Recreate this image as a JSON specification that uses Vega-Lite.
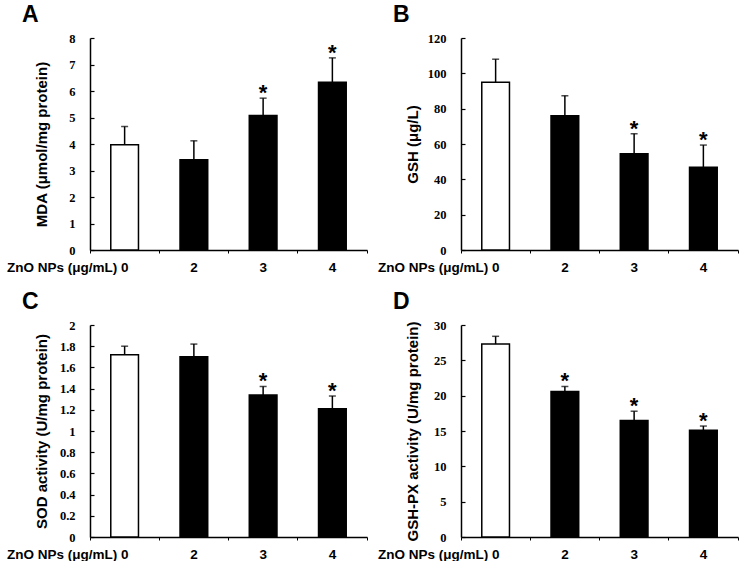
{
  "$schema": "https://vega.github.io/schema/vega-lite/v6.json",
  "background": "white",
  "padding": {"left": 6, "top": 4, "right": 0, "bottom": 0},
  "datasets": {
    "all": [
      {"panel": "A", "dose": "0", "group": "control", "mean": 3.97, "upper": 4.66, "sig": ""},
      {"panel": "A", "dose": "2", "group": "ZnO", "mean": 3.41, "upper": 4.12, "sig": ""},
      {"panel": "A", "dose": "3", "group": "ZnO", "mean": 5.08, "upper": 5.73, "sig": "*"},
      {"panel": "A", "dose": "4", "group": "ZnO", "mean": 6.33, "upper": 7.25, "sig": "*"},
      {"panel": "B", "dose": "0", "group": "control", "mean": 95.0, "upper": 108.0, "sig": ""},
      {"panel": "B", "dose": "2", "group": "ZnO", "mean": 76.0, "upper": 87.3, "sig": ""},
      {"panel": "B", "dose": "3", "group": "ZnO", "mean": 54.5, "upper": 65.8, "sig": "*"},
      {"panel": "B", "dose": "4", "group": "ZnO", "mean": 46.9, "upper": 59.4, "sig": "*"},
      {"panel": "C", "dose": "0", "group": "control", "mean": 1.72, "upper": 1.80, "sig": ""},
      {"panel": "C", "dose": "2", "group": "ZnO", "mean": 1.70, "upper": 1.82, "sig": ""},
      {"panel": "C", "dose": "3", "group": "ZnO", "mean": 1.34, "upper": 1.42, "sig": "*"},
      {"panel": "C", "dose": "4", "group": "ZnO", "mean": 1.21, "upper": 1.33, "sig": "*"},
      {"panel": "D", "dose": "0", "group": "control", "mean": 27.3, "upper": 28.4, "sig": ""},
      {"panel": "D", "dose": "2", "group": "ZnO", "mean": 20.6, "upper": 21.3, "sig": "*"},
      {"panel": "D", "dose": "3", "group": "ZnO", "mean": 16.5, "upper": 17.8, "sig": "*"},
      {"panel": "D", "dose": "4", "group": "ZnO", "mean": 15.1, "upper": 15.7, "sig": "*"}
    ]
  },
  "config": {
    "view": {"stroke": null},
    "axis": {"grid": false},
    "axisX": {
      "domainColor": "black", "domainWidth": 1.5, "tickColor": "black", "tickSize": 3, "tickWidth": 1,
      "bandPosition": 1, "tickExtra": true, "labelAngle": 0,
      "labelFont": "Liberation Sans", "labelFontWeight": "bold", "labelFontSize": 13.5, "labelColor": "black",
      "labelPadding": 7, "title": null
    },
    "axisY": {
      "domainColor": "black", "domainWidth": 1.5, "tickColor": "black", "tickSize": -4, "tickWidth": 1.2,
      "labelFont": "Liberation Serif", "labelFontWeight": "bold", "labelFontSize": 12.5, "labelColor": "black",
      "labelPadding": 19, "format": "~r", "labelOverlap": false,
      "titleFont": "Liberation Sans", "titleFontWeight": "bold", "titleFontSize": 15, "titleColor": "black",
      "titleX": -41, "titleY": 106, "titleAlign": "center", "titleBaseline": "bottom", "titleAngle": -90
    },
    "title": {"anchor": "start", "frame": "group", "dx": -68, "fontSize": 23, "font": "Liberation Sans", "fontWeight": "bold", "color": "black", "offset": 5}
  },
  "columns": 2,
  "spacing": {"row": 17, "column": 9},
  "resolve": {"scale": {"x": "independent", "y": "independent", "fill": "shared"}},
  "concat": [
    {
      "title": "A", "width": 277, "height": 212,
      "data": {"name": "all"},
      "transform": [{"filter": "datum.panel == 'A'"}],
      "encoding": {
        "x": {"field": "dose", "type": "ordinal", "sort": ["0", "2", "3", "4"],
          "scale": {"paddingInner": 0, "paddingOuter": 0},
          "axis": {"labelExpr": "datum.value == '0' ? 'ZnO NPs (μg/mL) 0' : datum.label",
            "labelAlign": {"condition": {"test": "datum.value == '0'", "value": "right"}, "value": "center"},
            "labelOffset": {"condition": {"test": "datum.value == '0'", "value": 4}, "value": 0}}},
        "y": {"field": "mean", "type": "quantitative", "scale": {"domain": [0, 8], "nice": false},
          "axis": {"values": [0, 1, 2, 3, 4, 5, 6, 7, 8], "title": "MDA (μmol/mg protein)"}}
      },
      "layer": [
        {"mark": {"type": "bar", "stroke": "black", "strokeWidth": 1.5, "width": {"band": 0.4}},
          "encoding": {"fill": {"field": "group", "type": "nominal", "scale": {"domain": ["control", "ZnO"], "range": ["white", "black"]}, "legend": null}}},
        {"mark": {"type": "rule", "color": "black", "strokeWidth": 1.5},
          "encoding": {"y2": {"field": "upper"}}},
        {"mark": {"type": "tick", "color": "black", "size": 7, "thickness": 1.5},
          "encoding": {"y": {"field": "upper", "type": "quantitative", "axis": {"values": [0, 1, 2, 3, 4, 5, 6, 7, 8], "title": "MDA (μmol/mg protein)"}}}},
        {"mark": {"type": "text", "font": "Liberation Sans", "fontWeight": "bold", "fontSize": 22, "baseline": "alphabetic", "dy": 2, "color": "black"},
          "encoding": {"y": {"field": "upper", "type": "quantitative", "axis": {"values": [0, 1, 2, 3, 4, 5, 6, 7, 8], "title": "MDA (μmol/mg protein)"}}, "text": {"field": "sig"}}}
      ]
    },
    {
      "title": "B", "width": 277, "height": 212,
      "data": {"name": "all"},
      "transform": [{"filter": "datum.panel == 'B'"}],
      "encoding": {
        "x": {"field": "dose", "type": "ordinal", "sort": ["0", "2", "3", "4"],
          "scale": {"paddingInner": 0, "paddingOuter": 0},
          "axis": {"labelExpr": "datum.value == '0' ? 'ZnO NPs (μg/mL) 0' : datum.label",
            "labelAlign": {"condition": {"test": "datum.value == '0'", "value": "right"}, "value": "center"},
            "labelOffset": {"condition": {"test": "datum.value == '0'", "value": 4}, "value": 0}}},
        "y": {"field": "mean", "type": "quantitative", "scale": {"domain": [0, 120], "nice": false},
          "axis": {"values": [0, 20, 40, 60, 80, 100, 120], "title": "GSH (μg/L)"}}
      },
      "layer": [
        {"mark": {"type": "bar", "stroke": "black", "strokeWidth": 1.5, "width": {"band": 0.4}},
          "encoding": {"fill": {"field": "group", "type": "nominal", "scale": {"domain": ["control", "ZnO"], "range": ["white", "black"]}, "legend": null}}},
        {"mark": {"type": "rule", "color": "black", "strokeWidth": 1.5},
          "encoding": {"y2": {"field": "upper"}}},
        {"mark": {"type": "tick", "color": "black", "size": 7, "thickness": 1.5},
          "encoding": {"y": {"field": "upper", "type": "quantitative", "axis": {"values": [0, 20, 40, 60, 80, 100, 120], "title": "GSH (μg/L)"}}}},
        {"mark": {"type": "text", "font": "Liberation Sans", "fontWeight": "bold", "fontSize": 22, "baseline": "alphabetic", "dy": 2, "color": "black"},
          "encoding": {"y": {"field": "upper", "type": "quantitative", "axis": {"values": [0, 20, 40, 60, 80, 100, 120], "title": "GSH (μg/L)"}}, "text": {"field": "sig"}}}
      ]
    },
    {
      "title": "C", "width": 277, "height": 212,
      "data": {"name": "all"},
      "transform": [{"filter": "datum.panel == 'C'"}],
      "encoding": {
        "x": {"field": "dose", "type": "ordinal", "sort": ["0", "2", "3", "4"],
          "scale": {"paddingInner": 0, "paddingOuter": 0},
          "axis": {"labelExpr": "datum.value == '0' ? 'ZnO NPs (μg/mL) 0' : datum.label",
            "labelAlign": {"condition": {"test": "datum.value == '0'", "value": "right"}, "value": "center"},
            "labelOffset": {"condition": {"test": "datum.value == '0'", "value": 4}, "value": 0}}},
        "y": {"field": "mean", "type": "quantitative", "scale": {"domain": [0, 2], "nice": false},
          "axis": {"values": [0, 0.2, 0.4, 0.6, 0.8, 1, 1.2, 1.4, 1.6, 1.8, 2], "title": "SOD activity (U/mg protein)"}}
      },
      "layer": [
        {"mark": {"type": "bar", "stroke": "black", "strokeWidth": 1.5, "width": {"band": 0.4}},
          "encoding": {"fill": {"field": "group", "type": "nominal", "scale": {"domain": ["control", "ZnO"], "range": ["white", "black"]}, "legend": null}}},
        {"mark": {"type": "rule", "color": "black", "strokeWidth": 1.5},
          "encoding": {"y2": {"field": "upper"}}},
        {"mark": {"type": "tick", "color": "black", "size": 7, "thickness": 1.5},
          "encoding": {"y": {"field": "upper", "type": "quantitative", "axis": {"values": [0, 0.2, 0.4, 0.6, 0.8, 1, 1.2, 1.4, 1.6, 1.8, 2], "title": "SOD activity (U/mg protein)"}}}},
        {"mark": {"type": "text", "font": "Liberation Sans", "fontWeight": "bold", "fontSize": 22, "baseline": "alphabetic", "dy": 2, "color": "black"},
          "encoding": {"y": {"field": "upper", "type": "quantitative", "axis": {"values": [0, 0.2, 0.4, 0.6, 0.8, 1, 1.2, 1.4, 1.6, 1.8, 2], "title": "SOD activity (U/mg protein)"}}, "text": {"field": "sig"}}}
      ]
    },
    {
      "title": "D", "width": 277, "height": 212,
      "data": {"name": "all"},
      "transform": [{"filter": "datum.panel == 'D'"}],
      "encoding": {
        "x": {"field": "dose", "type": "ordinal", "sort": ["0", "2", "3", "4"],
          "scale": {"paddingInner": 0, "paddingOuter": 0},
          "axis": {"labelExpr": "datum.value == '0' ? 'ZnO NPs (μg/mL) 0' : datum.label",
            "labelAlign": {"condition": {"test": "datum.value == '0'", "value": "right"}, "value": "center"},
            "labelOffset": {"condition": {"test": "datum.value == '0'", "value": 4}, "value": 0}}},
        "y": {"field": "mean", "type": "quantitative", "scale": {"domain": [0, 30], "nice": false},
          "axis": {"values": [0, 5, 10, 15, 20, 25, 30], "title": "GSH-PX activity (U/mg protein)"}}
      },
      "layer": [
        {"mark": {"type": "bar", "stroke": "black", "strokeWidth": 1.5, "width": {"band": 0.4}},
          "encoding": {"fill": {"field": "group", "type": "nominal", "scale": {"domain": ["control", "ZnO"], "range": ["white", "black"]}, "legend": null}}},
        {"mark": {"type": "rule", "color": "black", "strokeWidth": 1.5},
          "encoding": {"y2": {"field": "upper"}}},
        {"mark": {"type": "tick", "color": "black", "size": 7, "thickness": 1.5},
          "encoding": {"y": {"field": "upper", "type": "quantitative", "axis": {"values": [0, 5, 10, 15, 20, 25, 30], "title": "GSH-PX activity (U/mg protein)"}}}},
        {"mark": {"type": "text", "font": "Liberation Sans", "fontWeight": "bold", "fontSize": 22, "baseline": "alphabetic", "dy": 2, "color": "black"},
          "encoding": {"y": {"field": "upper", "type": "quantitative", "axis": {"values": [0, 5, 10, 15, 20, 25, 30], "title": "GSH-PX activity (U/mg protein)"}}, "text": {"field": "sig"}}}
      ]
    }
  ]
}
